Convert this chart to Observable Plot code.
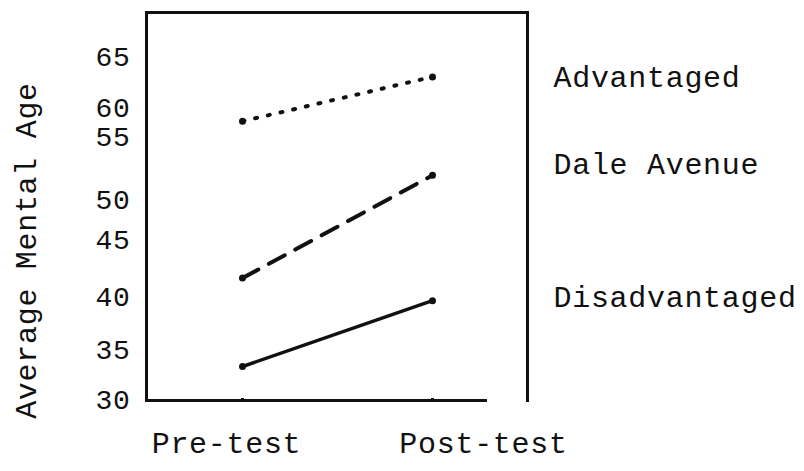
<!DOCTYPE html>
<html>
<head>
<meta charset="utf-8">
<script src="https://cdn.jsdelivr.net/npm/d3@7"></script>
<script src="https://cdn.jsdelivr.net/npm/@observablehq/plot@0.6"></script>
<style>
  html, body { margin: 0; padding: 0; background: #fff; }
  svg { display: block; }
  svg text { letter-spacing: 0.7px; }
</style>
</head>
<body>
<div id="chart"></div>
<script>
const tests = ["Pre-test", "Post-test"];
const groups = ["Advantaged", "Dale Avenue", "Disadvantaged"];
const advantaged = [57.8, 63.1];
const daleAvenue = [41.7, 52.0];
const disadvantaged = [33.4, 39.7];
const yTicks = [30, 35, 40, 45, 50, 55, 60, 65];

const series = [advantaged, daleAvenue, disadvantaged];
const rows = groups.flatMap((g, i) => tests.map((t, j) => ({group: g, test: t, value: series[i][j]})));

const font = "'Liberation Mono', 'DejaVu Sans Mono', monospace";
const ink = "#111";

const chart = Plot.plot({
  width: 804,
  height: 471,
  marginLeft: 146,
  marginRight: 277,
  marginTop: 12,
  marginBottom: 71,
  style: {fontFamily: font, color: ink, background: "#fff"},
  x: {type: "point", domain: tests, padding: 0.5, axis: null},
  y: {
    type: "linear",
    // scanned axis has uneven tick spacing: piecewise scale follows the printed ticks
    domain: [30, 35, 40, 45, 50, 55, 60, 65, 69.4],
    range: [400, 350, 297, 240, 200, 137, 108, 57, 12],
    ticks: yTicks
  },
  marks: [
    Plot.axisY({ticks: yTicks, tickSize: 0, tickPadding: 16, fontSize: 28, label: null}),
    Plot.text(["Average Mental Age"], {frameAnchor: "left", textAnchor: "middle", dx: -120, dy: 44, rotate: -90, fontSize: 30, fill: ink, text: d => d}),
    Plot.frame({anchor: "top", stroke: ink, strokeWidth: 3}),
    Plot.frame({anchor: "left", stroke: ink, strokeWidth: 3}),
    Plot.frame({anchor: "right", stroke: ink, strokeWidth: 3}),
    Plot.ruleY([30], {insetRight: 40, stroke: ink, strokeWidth: 3}),
    Plot.ruleX(tests, {x: d => d, y1: 30, y2: 30.2, stroke: ink, strokeWidth: 3}),
    Plot.line(rows.filter(d => d.group === "Advantaged"), {x: "test", y: "value", stroke: ink, strokeWidth: 4, strokeDasharray: "2,11", strokeLinecap: "round"}),
    Plot.line(rows.filter(d => d.group === "Dale Avenue"), {x: "test", y: "value", stroke: ink, strokeWidth: 4, strokeDasharray: "18,12"}),
    Plot.line(rows.filter(d => d.group === "Disadvantaged"), {x: "test", y: "value", stroke: ink, strokeWidth: 3.5}),
    Plot.dot(rows, {x: "test", y: "value", r: 3.5, fill: ink, stroke: "none"}),
    Plot.text(rows.filter(d => d.test === "Post-test" && d.group === "Advantaged"), {x: "test", y: "value", text: "group", textAnchor: "start", dx: 121, dy: 1, fontSize: 30, fill: ink}),
    Plot.text(rows.filter(d => d.test === "Post-test" && d.group === "Dale Avenue"), {x: "test", y: "value", text: "group", textAnchor: "start", dx: 121, dy: -11, fontSize: 30, fill: ink}),
    Plot.text(rows.filter(d => d.test === "Post-test" && d.group === "Disadvantaged"), {x: "test", y: "value", text: "group", textAnchor: "start", dx: 121, dy: -3, fontSize: 30, fill: ink}),
    Plot.text([tests[0]], {x: d => d, frameAnchor: "bottom", dy: 52, dx: -16, text: d => d, fontSize: 30, fill: ink}),
    Plot.text([tests[1]], {x: d => d, frameAnchor: "bottom", dy: 52, dx: 51, text: d => d, fontSize: 30, fill: ink})
  ]
});
document.getElementById("chart").append(chart);
</script>
</body>
</html>
